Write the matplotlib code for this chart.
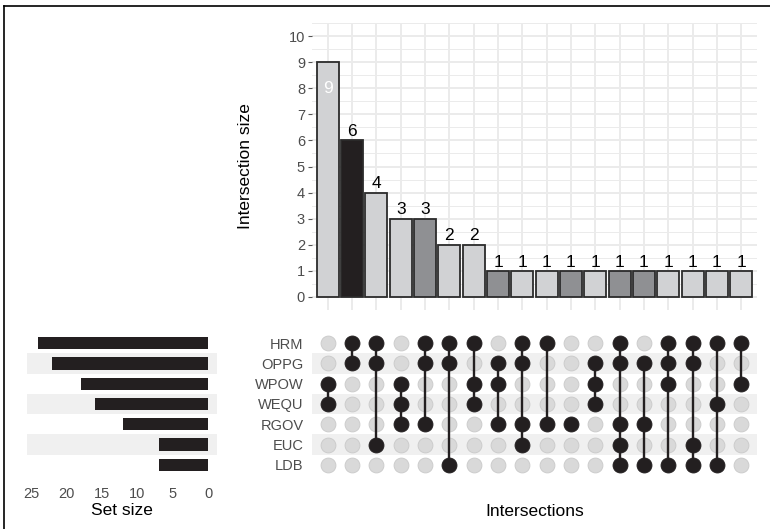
import matplotlib
matplotlib.use("Agg")
import matplotlib.pyplot as plt
from matplotlib.lines import Line2D
from matplotlib.ticker import MultipleLocator

plt.rcParams['font.family'] = ['Liberation Sans', 'DejaVu Sans']

# sets, top to bottom
sets = ["HRM", "OPPG", "WPOW", "WEQU", "RGOV", "EUC", "LDB"]
set_sizes = [24, 22, 18, 16, 12, 7, 7]

# intersections, left to right
intersection_sizes = [9, 6, 4, 3, 3, 2, 2, 1, 1, 1, 1, 1, 1, 1, 1, 1, 1, 1]
memberships = [
    ["WPOW", "WEQU"],
    ["HRM", "OPPG"],
    ["HRM", "OPPG", "EUC"],
    ["WPOW", "WEQU", "RGOV"],
    ["HRM", "OPPG", "RGOV"],
    ["HRM", "OPPG", "LDB"],
    ["HRM", "WPOW", "WEQU"],
    ["OPPG", "WPOW", "RGOV"],
    ["HRM", "OPPG", "RGOV", "EUC"],
    ["HRM", "RGOV"],
    ["RGOV"],
    ["OPPG", "WPOW", "WEQU"],
    ["HRM", "OPPG", "RGOV", "EUC", "LDB"],
    ["OPPG", "RGOV", "LDB"],
    ["HRM", "OPPG", "WPOW", "LDB"],
    ["HRM", "OPPG", "EUC", "LDB"],
    ["HRM", "WEQU", "LDB"],
    ["HRM", "WPOW"],
]
bar_shades = ["light", "black", "light", "light", "mid", "light", "light", "mid",
              "light", "light", "mid", "light", "mid", "mid", "light", "light",
              "light", "light"]

shade_colors = {"light": "#d1d2d4", "mid": "#8f9093", "black": "#231f20"}
grid_col = "#ebebeb"
text_gray = "#4d4d4d"

W, H = 770, 529
fig = plt.figure(figsize=(W / 100, H / 100), dpi=100)


def box(x0, y0, x1, y1):
    # pixel box (top-left origin) -> figure fraction
    return [x0 / W, 1 - y1 / H, (x1 - x0) / W, (y1 - y0) / H]


n = len(intersection_sizes)
xs = list(range(n))

# ---- intersection size bars ----
ax_bar = fig.add_axes(box(312, 23, 757, 310))
ax_bar.bar(xs, intersection_sizes, width=0.9,
           color=[shade_colors[s] for s in bar_shades],
           edgecolor="#2b2b2b", linewidth=1.3, zorder=3)
for x, v in zip(xs, intersection_sizes):
    if v >= 9:
        ax_bar.text(x, v - 1.0, str(v), ha="center", va="center",
                    color="white", fontsize=12.5, zorder=4)
    else:
        ax_bar.text(x, v + 0.05, str(v), ha="center", va="bottom",
                    color="black", fontsize=12.5, zorder=4)
ax_bar.set_xlim(-0.65, n - 1 + 0.65)
ax_bar.set_ylim(-0.5, 10.5)
ax_bar.yaxis.set_major_locator(MultipleLocator(1))
ax_bar.yaxis.set_minor_locator(MultipleLocator(0.5))
ax_bar.set_xticks(xs)
ax_bar.set_xticklabels([])
ax_bar.tick_params(axis="x", length=0)
ax_bar.tick_params(axis="y", which="major", length=3, color="#555555",
                   labelcolor=text_gray, labelsize=10.5, pad=2)
ax_bar.tick_params(axis="y", which="minor", length=0)
ax_bar.grid(True, which="major", color=grid_col, linewidth=1.4, zorder=0)
ax_bar.grid(True, which="minor", axis="y", color=grid_col, linewidth=0.7, zorder=0)
for sp in ax_bar.spines.values():
    sp.set_visible(False)
ax_bar.set_ylabel("Intersection size", fontsize=12.5, labelpad=26)

# ---- matrix ----
ax_mat = fig.add_axes(box(312, 333, 757, 475))
nrows = len(sets)
for i in range(nrows):
    if i % 2 == 1:
        ax_mat.axhspan(i - 0.5, i + 0.5, color="#f0f0f0", lw=0, zorder=0)
for x, members in enumerate(memberships):
    rows = [sets.index(m) for m in members]
    ax_mat.scatter([x] * nrows, range(nrows), s=115, color="#d9d9d9",
                   edgecolors="#c9c9c9", linewidths=0.6, zorder=2)
    if len(rows) > 1:
        ax_mat.plot([x, x], [min(rows), max(rows)], color="#231f20",
                    linewidth=1.7, zorder=3)
    ax_mat.scatter([x] * len(rows), rows, s=115, color="#231f20",
                   edgecolors="#231f20", linewidths=0.6, zorder=4)
ax_mat.set_xlim(-0.65, n - 1 + 0.65)
ax_mat.set_ylim(nrows - 0.5, -0.5)
ax_mat.set_yticks(range(nrows))
ax_mat.set_yticklabels(sets)
ax_mat.set_xticks([])
ax_mat.tick_params(axis="y", length=0, labelcolor=text_gray, labelsize=10.5, pad=6)
for sp in ax_mat.spines.values():
    sp.set_visible(False)
ax_mat.set_xlabel("Intersections", fontsize=12.5, labelpad=21)

# ---- set size bars ----
ax_set = fig.add_axes(box(27, 333, 217, 475))
for i in range(nrows):
    if i % 2 == 1:
        ax_set.axhspan(i - 0.5, i + 0.5, color="#f0f0f0", lw=0, zorder=0)
ax_set.barh(range(nrows), set_sizes, height=0.6, color="#231f20", zorder=3)
ax_set.set_xlim(25.6, -1.27)
ax_set.set_ylim(nrows - 0.5, -0.5)
ax_set.set_xticks([25, 20, 15, 10, 5, 0])
ax_set.set_yticks([])
ax_set.tick_params(axis="x", length=0, labelcolor=text_gray, labelsize=10.5, pad=9)
for sp in ax_set.spines.values():
    sp.set_visible(False)
ax_set.set_xlabel("Set size", fontsize=12.5, labelpad=1)

# frame lines (top and left)
fig.add_artist(Line2D([4 / W, 1], [1 - 6 / H, 1 - 6 / H], color="black", lw=1.2))
fig.add_artist(Line2D([4 / W, 4 / W], [0, 1 - 6 / H], color="black", lw=1.2))

fig.savefig("out.png", dpi=100)
